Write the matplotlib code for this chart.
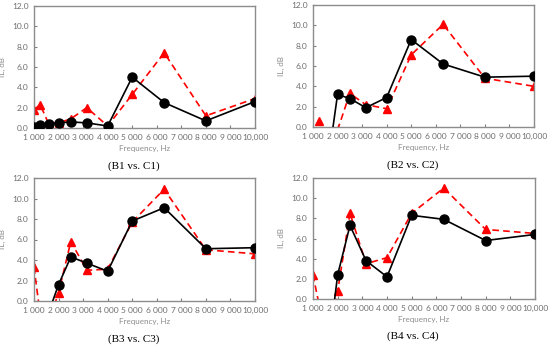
import matplotlib
matplotlib.use('Agg')
import matplotlib.pyplot as plt
import numpy as np

nan = np.nan
freq = [1000, 1250, 1600, 2000, 2500, 3150, 4000, 5000, 6300, 8000, 10000]

# B series (black, solid) and C series (red, dashed); negatives fall below the axis
b1 = [0.1, 0.3, 0.4, 0.5, 0.6, 0.5, 0.2, 5.0, 2.5, 0.7, 2.6]
c1 = [1.8, 2.3, 0.4, 0.5, 0.9, 2.0, 0.2, 3.3, 7.4, 1.2, 2.9]
b2 = [nan, nan, -3.7, 3.2, 2.8, 1.9, 2.9, 8.6, 6.2, 4.9, 5.0]
c2 = [nan, 0.6, nan, -0.3, 3.3, 2.2, 1.8, 7.1, 10.1, 4.8, 4.0]
b3 = [nan, nan, -1.1, 1.6, 4.3, 3.7, 2.9, 7.8, 9.1, 5.1, 5.2]
c3 = [3.3, -1.3, -2.0, 0.8, 5.8, 3.0, 3.1, 7.7, 10.9, 5.0, 4.6]
b4 = [nan, nan, -5.5, 2.4, 7.3, 3.8, 2.2, 8.3, 7.9, 5.8, 6.4]
c4 = [2.4, -0.6, -5.1, 0.8, 8.5, 3.5, 4.1, 8.5, 11.0, 6.9, 6.5]

panels = [(b1, c1, '(B1 vs. C1)'), (b2, c2, '(B2 vs. C2)'),
          (b3, c3, '(B3 vs. C3)'), (b4, c4, '(B4 vs. C4)')]

xticks = [1000, 2000, 3000, 4000, 5000, 6000, 7000, 8000, 9000, 10000]
xlabels = ['1 000', '2 000', '3 000', '4 000', '5 000', '6 000', '7 000',
           '8 000', '9 000', '10,000']
yticks = [0, 2, 4, 6, 8, 10, 12]

plt.rcParams['font.family'] = ['Lato', 'DejaVu Sans']

fig = plt.figure(figsize=(5.5, 3.47), dpi=100)
W, H = 550, 347
# axes boxes in pixels: left, top, right, bottom
boxes = [(34, 6, 255, 128), (313, 5, 534, 127),
         (34, 178, 255, 301), (313, 178, 535, 299)]

for (b, c, cap), (l, t, r, bt) in zip(panels, boxes):
    ax = fig.add_axes([l / W, 1 - bt / H, (r - l) / W, (bt - t) / H])
    ax.plot(freq, c, color='#ff0000', ls=(0, (4, 2.5)), lw=1.2,
            marker='^', ms=6, mec='#ff0000', mfc='#ff0000', zorder=2)
    ax.plot(freq, b, color='black', lw=1.2,
            marker='o', ms=6.5, zorder=3)
    ax.set_xlim(1000, 10000)
    ax.set_ylim(0, 12)
    ax.set_xticks(xticks)
    ax.set_xticklabels(xlabels)
    ax.set_yticks(yticks)
    ax.set_yticklabels(['%.1f' % v for v in yticks])
    ax.tick_params(direction='in', length=2.5, width=0.8, color='#808080',
                   labelsize=6, labelcolor='#6e6e6e', pad=4)
    for s in ax.spines.values():
        s.set_color('#8c8c8c')
        s.set_linewidth(1.0)
    ax.set_xlabel('Frequency, Hz', fontsize=5.8, color='#8c8c8c', labelpad=3)
    ax.set_ylabel('IL, dB', fontsize=5.8, color='#8c8c8c', labelpad=4)
    ax.text(0.45, -0.31, cap, transform=ax.transAxes, ha='center', va='center',
            fontsize=8, family='Liberation Serif', color='black')

fig.savefig('out.png', dpi=100)
